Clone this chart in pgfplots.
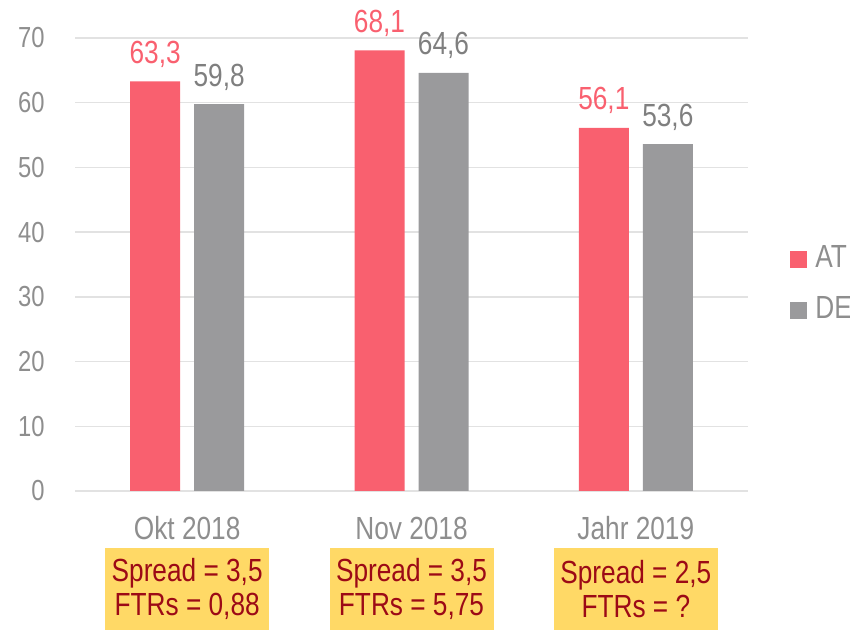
\documentclass[border=0pt]{standalone}
\usepackage{fontspec}
\setmainfont[FakeStretch=0.82]{Liberation Sans}
\usepackage{pgfplots}
\pgfplotsset{compat=1.18}
\definecolor{at-red}{HTML}{F9606F}
\definecolor{de-gray}{HTML}{9A9A9C}
\definecolor{lbl-gray}{HTML}{7F7F7F}
\definecolor{tick-gray}{HTML}{8E8E8E}
\definecolor{grid-gray}{HTML}{E2E2E2}
\definecolor{box-yellow}{HTML}{FFD966}
\definecolor{box-red}{HTML}{9C0A16}

\begin{document}
\begin{tikzpicture}
\begin{axis}[
    at={(0,0)}, anchor=south west,
    scale only axis, width=336.5pt, height=226.5pt,
    xmin=-0.5, xmax=2.5, ymin=0, ymax=70,
    ybar=7pt, bar width=25pt,
    clip=false,
    axis line style={draw=none},
    major tick length=0pt,
    ymajorgrids,
    grid style={draw=grid-gray, line width=0.75pt},
    xtick={0,1,2},
    xticklabels={Okt 2018, Nov 2018, Jahr 2019},
    ytick={0,10,...,70},
    /pgf/number format/assume math mode=true,
    yticklabel style={anchor=east, inner sep=0pt, xshift=-15pt,
        font=\fontsize{14.5}{16}\selectfont, text=tick-gray},
    xticklabel style={anchor=base, inner sep=0pt, yshift=-24.5pt,
        font=\fontsize{16}{18}\selectfont, text=tick-gray},
    nodes near coords={\pgfmathprintnumber[fixed, fixed zerofill, precision=1, use comma, assume math mode=true]{\pgfplotspointmeta}},
    every node near coord/.append style={anchor=base, inner sep=0pt, yshift=9pt,
        font=\fontsize{16}{18}\selectfont},
    legend style={at={(1,0.458)}, anchor=west, xshift=21pt, draw=none, fill=none,
        inner sep=0pt, row sep=10.5pt, column sep=4pt,
        font=\fontsize{16}{18}\selectfont, text=tick-gray,
        nodes={inner sep=0pt, text height=12pt, text depth=3pt}},
    legend cell align=left,
]
\addplot[fill=at-red, draw=none,
    every node near coord/.append style={text=at-red},
    legend image code/.code={\fill[at-red] (0pt,-5pt) rectangle (8.5pt,3.5pt);}]
    coordinates {(0,63.3) (1,68.1) (2,56.1)};
\addlegendentry{AT}
\addplot[fill=de-gray, draw=none,
    every node near coord/.append style={text=lbl-gray},
    legend image code/.code={\fill[de-gray] (0pt,-5pt) rectangle (8.5pt,3.5pt);}]
    coordinates {(0,59.8) (1,64.6) (2,53.6)};
\addlegendentry{DE}

\tikzset{spreadbox/.style={fill=box-yellow, text=box-red, align=center,
    minimum width=82pt, minimum height=41pt, inner sep=0pt,
    font=\fontsize{16}{17}\selectfont}}
\node[spreadbox] at (axis cs:0,0) [yshift=-49pt] {Spread = 3,5\\FTRs = 0,88};
\node[spreadbox] at (axis cs:1,0) [yshift=-49pt] {Spread = 3,5\\FTRs = 5,75};
\node[spreadbox] at (axis cs:2,0) [yshift=-49pt] {Spread = 2,5\\FTRs = ?};
\end{axis}
\pgfresetboundingbox
\path[use as bounding box] (-37.5pt,-69.5pt) rectangle (387.5pt,245.5pt);
\end{tikzpicture}
\end{document}
